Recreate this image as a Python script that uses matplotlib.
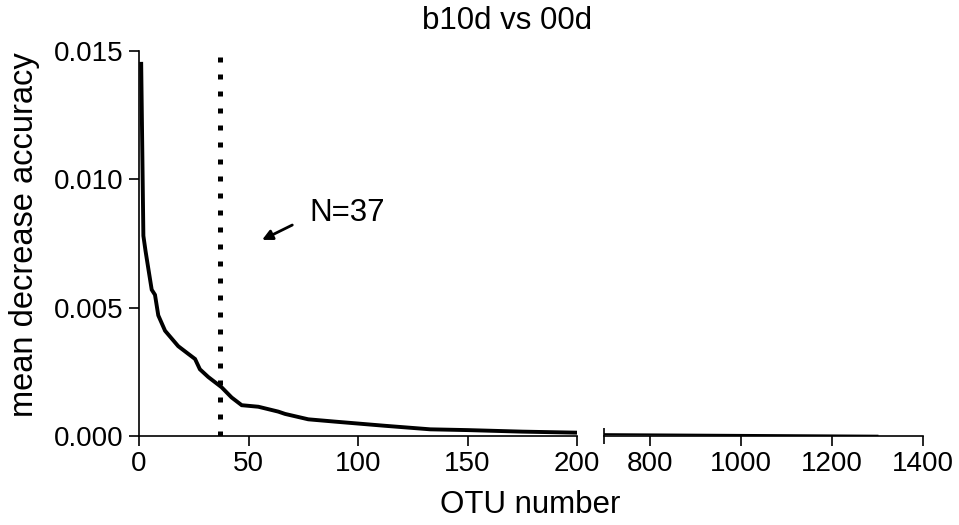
import matplotlib
matplotlib.use("Agg")
import matplotlib.pyplot as plt

plt.rcParams['font.family'] = ['Liberation Sans', 'DejaVu Sans']

# values (sorted mean decrease accuracy per OTU)
otu_left = [1, 2, 3, 4.3, 5.8, 7.3, 8.8, 11.9, 17.9, 22.5, 25.6, 27.8, 31.6,
            37.7, 42.3, 46.9, 54.5, 63.6, 66.7, 77.3, 89.5, 112, 133, 150, 175, 200]
mda_left = [0.0145, 0.0078, 0.0072, 0.0065, 0.0057, 0.0055, 0.0047, 0.0041,
            0.0035, 0.0032, 0.0030, 0.0026, 0.0023, 0.0019, 0.0015, 0.0012,
            0.00114, 0.00095, 0.00086, 0.00065, 0.00056, 0.0004, 0.00026,
            0.00023, 0.00017, 0.00013]
otu_right = [700, 900, 1100, 1300]
mda_right = [0.00007, 0.00005, 0.00003, 0.00001]

cutoff = 37
left_ticks = [0, 50, 100, 150, 200]
right_ticks = [800, 1000, 1200, 1400]
y_ticks = [0.000, 0.005, 0.010, 0.015]

W, H = 959, 525
fig = plt.figure(figsize=(W / 100, H / 100), dpi=100)
ax1 = fig.add_axes([139 / W, 1 - 436 / H, (577 - 139) / W, (436 - 51) / H])
ax2 = fig.add_axes([604 / W, 1 - 436 / H, (923 - 604) / W, (436 - 51) / H])

fs_tick = 20
fs = 22.5
for ax in (ax1, ax2):
    ax.spines['top'].set_visible(False)
    ax.spines['right'].set_visible(False)
    ax.spines['bottom'].set_linewidth(1.2)
    ax.spines['left'].set_linewidth(1.2)
    ax.tick_params(width=1.2, length=7, labelsize=fs_tick, pad=4)
    ax.set_ylim(0, 0.015)

ax1.plot(otu_left, mda_left, color='black', lw=2.8, solid_joinstyle='miter')
ax1.set_xlim(0, 200)
ax1.set_xticks(left_ticks)
ax1.set_yticks(y_ticks)
ax1.set_yticklabels(['%.3f' % v for v in y_ticks])
ax1.set_xticks([200], minor=True)
ax1.tick_params(axis='x', which='minor', direction='inout', length=12, width=1.2)
ax1.axvline(cutoff, ymin=0, ymax=1, color='black', lw=3.6,
            linestyle=(0, (1, 2.4)), dash_capstyle='butt')
ax1.annotate('', xy=(56.2, 0.00764), xytext=(70, 0.00822),
             arrowprops=dict(arrowstyle='-|>,head_length=0.6,head_width=0.3',
                             lw=2, color='black', shrinkA=0, shrinkB=0))
ax1.text(78, 0.0087, 'N=%d' % cutoff, fontsize=fs, ha='left', va='center')

ax2.plot(otu_right, mda_right, color='black', lw=1.5)
ax2.set_xlim(700, 1400)
ax2.set_xticks(right_ticks)
ax2.set_xticks([700], minor=True)
ax2.tick_params(axis='x', which='minor', direction='inout', length=12, width=1.2)
ax2.spines['left'].set_visible(False)
ax2.set_yticks([])

fig.text(507 / W, 1 - 21 / H, 'b10d vs 00d', fontsize=fs, ha='center', va='center')
fig.text(530 / W, 1 - 505 / H, 'OTU number', fontsize=fs, ha='center', va='center')
fig.text(25 / W, 1 - 235 / H, 'mean decrease accuracy', fontsize=23.5,
         ha='center', va='center', rotation=90)

fig.savefig('out.png', dpi=100)
